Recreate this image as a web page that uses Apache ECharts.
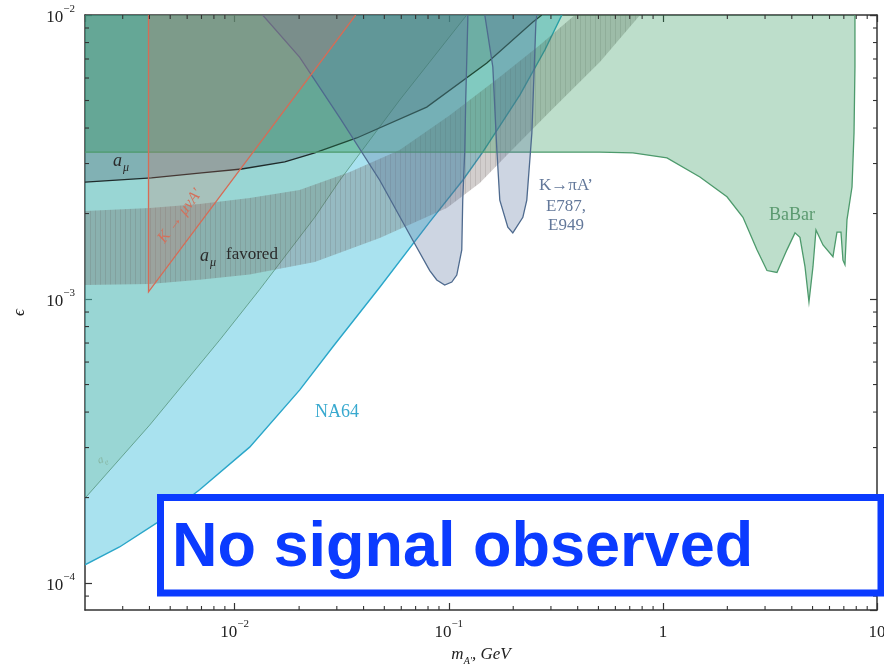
<!DOCTYPE html>
<html><head><meta charset="utf-8">
<script src="https://cdn.jsdelivr.net/npm/echarts@6/dist/echarts.min.js"></script>
<style>html,body{margin:0;padding:0;background:#fff}#c{width:884px;height:669px}</style>
</head><body><div id="c"></div>
<script>
// ---- axis limits ----
const XMIN = 0.002, XMAX = 10, YMIN = 8.04e-5, YMAX = 0.01;

// ---- tick labels ----
const xTickValues = [0.01, 0.1, 1, 10];
const xTickLabels = ['10^\u22122', '10^\u22121', '1', '10'];
const yTickValues = [1e-4, 1e-3, 1e-2];
const yTickLabels = ['10^\u22124', '10^\u22123', '10^\u22122'];
const xMinorTicks = [0.003,0.004,0.005,0.006,0.007,0.008,0.009,0.02,0.03,0.04,0.05,0.06,0.07,0.08,0.09,0.2,0.3,0.4,0.5,0.6,0.7,0.8,0.9,2,3,4,5,6,7,8,9];
const yMinorTicks = [9e-5,2e-4,3e-4,4e-4,5e-4,6e-4,7e-4,8e-4,9e-4,2e-3,3e-3,4e-3,5e-3,6e-3,7e-3,8e-3,9e-3];

// ---- NA64 exclusion boundary (m_A' GeV, epsilon) ----
const na64Mass = [0.002, 0.0029, 0.00433, 0.00686, 0.01175, 0.0201, 0.0287, 0.0476, 0.0815, 0.1162, 0.1441, 0.215, 0.281, 0.3374];
const na64Eps  = [1.16e-4, 1.34e-4, 1.63e-4, 2.13e-4, 3.01e-4, 4.78e-4, 6.78e-4, 1.10e-3, 1.87e-3, 2.62e-3, 3.29e-3, 5.23e-3, 7.53e-3, 1.0e-2];

// ---- a_e boundary ----
const aeMass = [0.002, 0.00401, 0.00851, 0.01308, 0.02366, 0.031, 0.059, 0.1213];
const aeEps  = [1.99e-4, 3.60e-4, 7.17e-4, 1.08e-3, 1.94e-3, 2.62e-3, 5.02e-3, 1.0e-2];

// ---- a_mu exclusion boundary ----
const amuMass = [0.002, 0.00409, 0.00701, 0.01078, 0.01714, 0.02366, 0.03715, 0.0789, 0.1506, 0.2471, 0.272];
const amuEps  = [2.58e-3, 2.67e-3, 2.78e-3, 2.87e-3, 3.04e-3, 3.27e-3, 3.69e-3, 4.74e-3, 6.78e-3, 9.45e-3, 1.0e-2];

// ---- a_mu favored band ----
const bandLowMass  = [0.002, 0.00401, 0.00686, 0.01175, 0.02366, 0.0476, 0.0979, 0.1396, 0.1866, 0.2963, 0.508, 0.782];
const bandLowEps   = [1.12e-3, 1.13e-3, 1.17e-3, 1.22e-3, 1.35e-3, 1.64e-3, 2.09e-3, 2.56e-3, 3.21e-3, 4.56e-3, 6.83e-3, 1.0e-2];
const bandHighMass = [0.002, 0.00401, 0.00686, 0.01175, 0.0201, 0.0345, 0.059, 0.1011, 0.1731, 0.2663, 0.388];
const bandHighEps  = [2.04e-3, 2.09e-3, 2.16e-3, 2.27e-3, 2.42e-3, 2.80e-3, 3.35e-3, 4.44e-3, 6.05e-3, 7.84e-3, 1.0e-2];

// ---- BaBar boundary ----
const babarMass = [0.002, 0.508, 0.7246, 1.045, 1.489, 1.992, 2.366, 2.75, 3.063, 3.41, 3.796, 4.14, 4.366, 4.61, 4.811, 5.023, 5.188, 5.595, 6.227, 6.502, 6.788, 6.934, 7.085, 7.24, 7.643, 7.81, 7.889, 7.889];
const babarEps  = [3.29e-3, 3.29e-3, 3.27e-3, 3.14e-3, 2.69e-3, 2.29e-3, 1.94e-3, 1.49e-3, 1.26e-3, 1.24e-3, 1.49e-3, 1.71e-3, 1.65e-3, 1.30e-3, 9.76e-4, 1.30e-3, 1.75e-3, 1.55e-3, 1.41e-3, 1.72e-3, 1.72e-3, 1.37e-3, 1.32e-3, 1.90e-3, 2.48e-3, 3.84e-3, 6.56e-3, 1.0e-2];

// ---- K -> pi A' (E787, E949) ----
const e787aMass = [0.01351, 0.0201, 0.031, 0.0476, 0.0679, 0.0815, 0.0879, 0.0957, 0.1033, 0.109, 0.115, 0.1162, 0.1188, 0.12, 0.1227, 0.1227];
const e787aEps  = [1.0e-2, 7.11e-3, 4.34e-3, 2.62e-3, 1.61e-3, 1.26e-3, 1.167e-3, 1.12e-3, 1.148e-3, 1.215e-3, 1.49e-3, 2.23e-3, 3.35e-3, 5.02e-3, 9.6e-3, 1.0e-2];
const e787bMass = [0.1473, 0.1606, 0.1677, 0.1731, 0.1887, 0.1991, 0.2218, 0.2314, 0.2444, 0.2552, 0.2579];
const e787bEps  = [1.0e-2, 6.56e-3, 3.35e-3, 2.23e-3, 1.79e-3, 1.71e-3, 1.94e-3, 2.23e-3, 3.84e-3, 9.45e-3, 1.0e-2];

// ---- K -> mu nu A' ----
const kmuMass = [0.00396, 0.00396, 0.03675];
const kmuEps  = [1.0e-2, 1.06e-3, 1.0e-2];

const SERIF = '"Liberation Serif", "DejaVu Serif", serif';

function zip(a, b) { return a.map((v, i) => [v, b[i]]); }

function region(name, data, o) {
  return {
    type: 'custom', name: name, coordinateSystem: 'cartesian2d', silent: true, clip: true, z: o.z || 2,
    data: data,
    renderItem: function (params, api) {
      if (params.dataIndexInside !== 0) return null;
      const pts = [];
      for (let i = 0; i < params.dataInsideLength; i++) {
        pts.push(api.coord([api.value(0, i), api.value(1, i)]));
      }
      const children = [];
      if (o.fill) {
        const poly = pts.concat((o.close || []).map(c => api.coord(c)));
        children.push({ type: 'polygon', shape: { points: poly }, style: { fill: o.fill } });
      }
      if (o.stroke) {
        children.push({ type: 'polyline', shape: { points: pts }, style: { stroke: o.stroke, lineWidth: o.lw || 1.2, fill: null } });
      }
      return { type: 'group', children: children };
    }
  };
}

function hatch(base, line) {
  const c = document.createElement('canvas');
  c.width = 5; c.height = 5;
  const g = c.getContext('2d');
  g.fillStyle = base; g.fillRect(0, 0, 5, 5);
  g.clearRect(0, 0, 1, 5);
  g.fillStyle = line; g.fillRect(0, 0, 1, 5);
  return c;
}

function tickSeries(vals, isX) {
  return {
    type: 'custom', coordinateSystem: 'cartesian2d', silent: true, z: 30, clip: false,
    data: vals.map(v => isX ? [v, YMIN] : [XMIN, v]),
    renderItem: function (params, api) {
      const v = api.value(isX ? 0 : 1);
      const a = api.coord(isX ? [v, YMIN] : [XMIN, v]);
      const b = api.coord(isX ? [v, YMAX] : [XMAX, v]);
      const L = 4;
      const style = { stroke: '#333', lineWidth: 1.1 };
      return {
        type: 'group', children: isX ? [
          { type: 'line', shape: { x1: a[0], y1: a[1], x2: a[0], y2: a[1] - L }, style: style },
          { type: 'line', shape: { x1: b[0], y1: b[1], x2: b[0], y2: b[1] + L }, style: style }
        ] : [
          { type: 'line', shape: { x1: a[0], y1: a[1], x2: a[0] + L, y2: a[1] }, style: style },
          { type: 'line', shape: { x1: b[0], y1: b[1], x2: b[0] - L, y2: b[1] }, style: style }
        ]
      };
    }
  };
}

function fmt(values, labels) {
  return function (v) {
    for (let i = 0; i < values.length; i++) {
      if (Math.abs(Math.log10(v) - Math.log10(values[i])) < 1e-6) {
        const parts = labels[i].split('^');
        return parts[1] ? '{b|' + parts[0] + '}{s|' + parts[1] + '}' : '{b|' + parts[0] + '}';
      }
    }
    return '';
  };
}
const tickRich = {
  b: { fontFamily: SERIF, fontSize: 17, color: '#222', lineHeight: 22, verticalAlign: 'bottom' },
  s: { fontFamily: SERIF, fontSize: 11, color: '#222', lineHeight: 12, verticalAlign: 'top' }
};
const axisLineStyle = { color: '#333', width: 1.5 };

const chart = echarts.init(document.getElementById('c'), null, { renderer: 'canvas' });
const option = {
  backgroundColor: '#ffffff',
  animation: false,
  grid: { left: 85, right: 7, top: 15, bottom: 59, containLabel: false, outerBoundsMode: 'none' },
  xAxis: [
    {
      type: 'log', logBase: 10, min: XMIN, max: XMAX, position: 'bottom',
      axisLine: { show: true, lineStyle: axisLineStyle },
      axisTick: { show: true, inside: true, length: 7, lineStyle: { color: '#333', width: 1.2 } },
      splitLine: { show: false },
      axisLabel: { show: true, margin: 9, showMinLabel: false, formatter: fmt(xTickValues, xTickLabels), rich: tickRich },
      name: '{i|m}{s|A\u2032}{i|, GeV}', nameLocation: 'middle', nameGap: 35,
      nameTextStyle: {
        rich: {
          i: { fontFamily: SERIF, fontStyle: 'italic', fontSize: 17, color: '#222', lineHeight: 20, verticalAlign: 'top' },
          s: { fontFamily: SERIF, fontStyle: 'italic', fontSize: 10, color: '#222', lineHeight: 20, verticalAlign: 'bottom' }
        }
      }
    },
    {
      type: 'log', logBase: 10, min: XMIN, max: XMAX, position: 'top',
      axisLine: { show: true, lineStyle: axisLineStyle },
      axisTick: { show: true, inside: true, length: 7, lineStyle: { color: '#333', width: 1.2 } },
      splitLine: { show: false }, axisLabel: { show: false }
    }
  ],
  yAxis: [
    {
      type: 'log', logBase: 10, min: YMIN, max: YMAX, position: 'left',
      axisLine: { show: true, lineStyle: axisLineStyle },
      axisTick: { show: true, inside: true, length: 7, lineStyle: { color: '#333', width: 1.2 } },
      splitLine: { show: false },
      axisLabel: { show: true, margin: 10, showMinLabel: false, formatter: fmt(yTickValues, yTickLabels), rich: tickRich },
      name: '\u03f5', nameLocation: 'middle', nameGap: 57, nameRotate: 90,
      nameTextStyle: { fontFamily: SERIF, fontStyle: 'italic', fontSize: 17, color: '#222' }
    },
    {
      type: 'log', logBase: 10, min: YMIN, max: YMAX, position: 'right',
      axisLine: { show: true, lineStyle: axisLineStyle },
      axisTick: { show: true, inside: true, length: 7, lineStyle: { color: '#333', width: 1.2 } },
      splitLine: { show: false }, axisLabel: { show: false }
    }
  ],
  series: [
    region('NA64', zip(na64Mass, na64Eps), { z: 2, fill: 'rgba(64,191,219,0.45)', close: [[XMIN, YMAX]], stroke: '#2aa6c9', lw: 1.4 }),
    region('a_e', zip(aeMass, aeEps), { z: 3, fill: 'rgba(90,170,105,0.2)', close: [[XMIN, YMAX]], stroke: '#5d9c88', lw: 0.9 }),
    region('a_mu favored', zip(bandLowMass, bandLowEps).concat(zip(bandHighMass, bandHighEps).reverse()),
      { z: 4, fill: { image: hatch('rgba(105,92,90,0.3)', 'rgba(95,82,80,0.4)'), repeat: 'repeat' } }),
    region('a_mu', zip(amuMass, amuEps), { z: 5, fill: 'rgba(60,68,84,0.25)', close: [[XMIN, YMAX]], stroke: '#1f2b2b', lw: 1.3 }),
    region('BaBar', zip(babarMass, babarEps), { z: 6, fill: 'rgba(38,145,82,0.3)', close: [[XMIN, YMAX]], stroke: '#4d9a6c', lw: 1.3 }),
    region('E787a', zip(e787aMass, e787aEps), { z: 7, fill: 'rgba(88,115,158,0.3)', stroke: '#4e6a8e', lw: 1.3 }),
    region('E787b', zip(e787bMass, e787bEps), { z: 7, fill: 'rgba(88,115,158,0.3)', stroke: '#4e6a8e', lw: 1.3 }),
    region('Kmu', zip(kmuMass, kmuEps), { z: 8, fill: 'rgba(226,112,92,0.2)', stroke: '#d66c56', lw: 1.3 }),
    tickSeries(xMinorTicks, true),
    tickSeries(yMinorTicks, false)
  ],
  graphic: [
    { type: 'text', z: 50, x: 113, y: 161, style: { text: 'a', font: 'italic 18px ' + SERIF, fill: '#2a2a2a', verticalAlign: 'middle' } },
    { type: 'text', z: 50, x: 123, y: 168, style: { text: '\u03bc', font: 'italic 12px ' + SERIF, fill: '#2a2a2a', verticalAlign: 'middle' } },
    { type: 'text', z: 50, x: 200, y: 256, style: { text: 'a', font: 'italic 18px ' + SERIF, fill: '#2a2a2a', verticalAlign: 'middle' } },
    { type: 'text', z: 50, x: 210, y: 263, style: { text: '\u03bc', font: 'italic 12px ' + SERIF, fill: '#2a2a2a', verticalAlign: 'middle' } },
    { type: 'text', z: 50, x: 226, y: 255, style: { text: 'favored', font: '17px ' + SERIF, fill: '#2a2a2a', verticalAlign: 'middle' } },
    { type: 'text', z: 50, x: 180, y: 216, rotation: 53 * Math.PI / 180, style: { text: 'K \u2192 \u03bc\u03bdA\u2032', font: 'italic 16px ' + SERIF, fill: '#d4705b', align: 'center', verticalAlign: 'middle' } },
    { type: 'text', z: 50, x: 98, y: 461, rotation: 0.35, style: { text: 'a', font: 'italic 11px ' + SERIF, fill: '#86b5a2', verticalAlign: 'middle' } },
    { type: 'text', z: 50, x: 105, y: 463, rotation: 0.35, style: { text: 'e', font: 'italic 8px ' + SERIF, fill: '#86b5a2', verticalAlign: 'middle' } },
    { type: 'text', z: 50, x: 337, y: 412, style: { text: 'NA64', font: '18px ' + SERIF, fill: '#38a9cf', align: 'center', verticalAlign: 'middle' } },
    { type: 'text', z: 50, x: 566, y: 186, style: { text: 'K\u2192\u03c0A\u2019', font: '17px ' + SERIF, fill: '#63789a', align: 'center', verticalAlign: 'middle' } },
    { type: 'text', z: 50, x: 566, y: 207, style: { text: 'E787,', font: '17px ' + SERIF, fill: '#63789a', align: 'center', verticalAlign: 'middle' } },
    { type: 'text', z: 50, x: 566, y: 226, style: { text: 'E949', font: '17px ' + SERIF, fill: '#63789a', align: 'center', verticalAlign: 'middle' } },
    { type: 'text', z: 50, x: 792, y: 215, style: { text: 'BaBar', font: '18px ' + SERIF, fill: '#5b9a70', align: 'center', verticalAlign: 'middle' } },
    { type: 'rect', z: 60, shape: { x: 160.5, y: 497.5, width: 720.5, height: 95.5 }, style: { fill: '#ffffff', stroke: '#0b3bff', lineWidth: 7 } },
    { type: 'text', z: 61, x: 172, y: 549, style: { text: 'No signal observed', font: 'bold 63px "Liberation Sans", Arial, sans-serif', fill: '#0b3bff', verticalAlign: 'middle' } }
  ]
};
chart.setOption(option);
</script></body></html>
